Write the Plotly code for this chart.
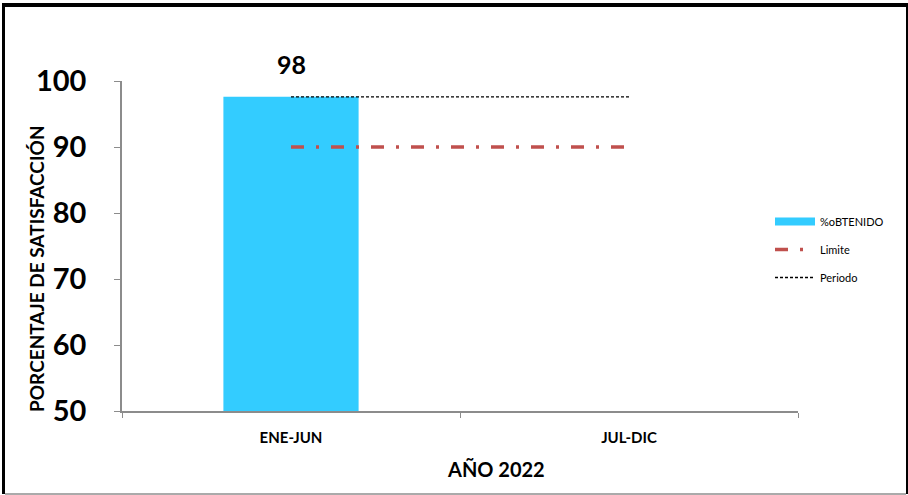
import plotly.graph_objects as go

# Data
periodos = ["ENE-JUN", "JUL-DIC"]
obtenido = [97.6, None]
limite = [90, 90]
periodo_ref = [97.6, 97.6]
eje_y_titulo = "PORCENTAJE DE SATISFACCIÓN"
eje_x_titulo = "AÑO 2022"

W, H = 908, 495
L, R, T, B = 122, 110, 81, 84
pw, ph = W - L - R, H - T - B
FONT = "Lato"
BAR_COLOR = "#33CCFF"


def px_x(x):
    return (x - L) / pw


def px_y(y):
    return 1 - (y - T) / ph


fig = go.Figure()

fig.add_trace(go.Bar(
    x=periodos, y=obtenido, name="%oBTENIDO",
    marker=dict(color=BAR_COLOR, line=dict(width=0)),
    width=0.4, showlegend=False,
))
# legend swatch for the bar series (wide flat block)
fig.add_trace(go.Scatter(
    x=[None], y=[None], name="%oBTENIDO", mode="lines",
    line=dict(color=BAR_COLOR, width=8), legendgroup="a",
))
fig.add_trace(go.Scatter(
    x=periodos, y=limite, name="Limite", mode="lines", legendgroup="b",
    line=dict(color="#C0504D", width=3.5, dash="13px,12px,3px,12px"),
))
fig.add_trace(go.Scatter(
    x=periodos, y=periodo_ref, name="Periodo", mode="lines", legendgroup="c",
    line=dict(color="black", width=1.3, dash="3px,2px"),
))

# value label above the bar
annotations = [dict(
    x=periodos[0], y=obtenido[0], xref="x", yref="y",
    text=f"{obtenido[0]:.0f}", showarrow=False, yanchor="bottom", yshift=16,
    font=dict(family=FONT, size=25, color="black", weight="bold"),
)]
# axis titles
annotations.append(dict(
    x=px_x(496), y=px_y(469), xref="paper", yref="paper", text=eje_x_titulo,
    showarrow=False, xanchor="center", yanchor="middle",
    font=dict(family=FONT, size=20, color="black", weight="bold"),
))
annotations.append(dict(
    x=px_x(36), y=px_y(268), xref="paper", yref="paper", text=eje_y_titulo,
    showarrow=False, xanchor="center", yanchor="middle", textangle=-90,
    font=dict(family=FONT, size=19, color="black", weight="bold"),
))

# outer frame
frame = [
    dict(x0=2, x1=5, y0=3, y1=494, color="black"),
    dict(x0=2, x1=908, y0=3, y1=7, color="black"),
    dict(x0=906, x1=908, y0=3, y1=494, color="black"),
    dict(x0=5, x1=906, y0=493, y1=495, color="#AAAAAA"),
]
shapes = [dict(type="rect", xref="paper", yref="paper",
               x0=px_x(f["x0"]), x1=px_x(f["x1"]),
               y0=px_y(f["y0"]), y1=px_y(f["y1"]),
               fillcolor=f["color"], line=dict(width=0), layer="above")
          for f in frame]

fig.update_layout(
    width=W, height=H,
    margin=dict(l=L, r=R, t=T, b=B),
    paper_bgcolor="white", plot_bgcolor="white",
    font=dict(family=FONT, color="black"),
    showlegend=True,
    legend=dict(x=px_x(770), y=px_y(207), xanchor="left", yanchor="top",
                font=dict(family=FONT, size=11, color="black"),
                traceorder="grouped", tracegroupgap=9, itemwidth=40,
                bgcolor="rgba(0,0,0,0)"),
    annotations=annotations,
    shapes=shapes,
    bargap=0.6,
)

fig.update_xaxes(
    type="category", showline=True, linecolor="#8C8C8C", linewidth=1.5,
    ticks="outside", ticklen=5, tickcolor="#8C8C8C", tickson="boundaries",
    ticklabelstandoff=12,
    tickfont=dict(family=FONT, size=15, color="black", weight="bold"),
    showgrid=False, zeroline=False, range=[-0.5, 1.5],
)
fig.update_yaxes(
    range=[50, 100], dtick=10, showline=True, linecolor="#8C8C8C", linewidth=1.5,
    ticks="outside", ticklen=6, tickcolor="#8C8C8C", ticklabelstandoff=22,
    tickfont=dict(family=FONT, size=29, color="black", weight="bold"),
    showgrid=False, zeroline=False,
)

fig.write_html("out.html")
